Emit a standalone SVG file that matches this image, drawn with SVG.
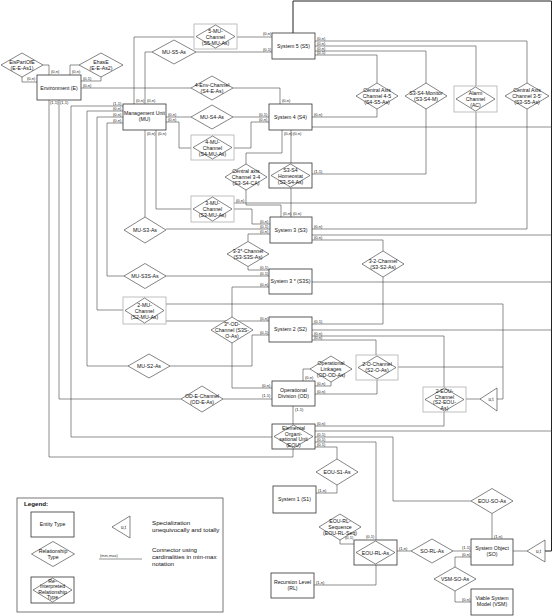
<svg xmlns="http://www.w3.org/2000/svg" width="553" height="616" viewBox="0 0 553 616">
<style>
.e{fill:#fff;stroke:#333;stroke-width:0.8}
.r{fill:#fff;stroke:#333;stroke-width:0.6}
.ib{fill:#fff;stroke:#b0b0b0;stroke-width:0.8}
.ibd{fill:#fff;stroke:#333;stroke-width:0.8}
.c{fill:none;stroke:#444;stroke-width:0.6}
.bus{fill:none;stroke:#222;stroke-width:1}
text{font-family:"Liberation Sans",Arial,sans-serif;fill:#111}
.t{font-size:5.2px;text-anchor:middle}
.k{font-size:4px;fill:#333}
.lg{font-size:6.2px}
</style>
<rect width="553" height="616" fill="#fff"/>
<g id="connectors">
<polyline class="c" points="43,65 49,65 49,75"/>
<polyline class="c" points="22,77 22,82 37,82"/>
<polyline class="c" points="79,65 70,65 70,75"/>
<polyline class="c" points="101,77 101,81 81,81"/>
<polyline class="c" points="81,88 191,88"/>
<polyline class="c" points="233,88 280,88 280,104"/>
<polyline class="c" points="49,100 49,457 293,457 293,449"/>
<polyline class="c" points="59,100 59,399 181,399"/>
<polyline class="c" points="223,399 272,399"/>
<polyline class="c" points="123,106 71,106 71,437 272,437"/>
<polyline class="c" points="123,111 87,111 87,366 128,366"/>
<polyline class="c" points="123,117 97,117 97,310 123,310"/>
<polyline class="c" points="123,123 107,123 107,276 124,276"/>
<polyline class="c" points="134,104 134,37 194,37"/>
<polyline class="c" points="145,104 145,52 152,52"/>
<polyline class="c" points="145,130 145,217"/>
<polyline class="c" points="156,130 156,209 191,209"/>
<polyline class="c" points="166,117 191,117"/>
<polyline class="c" points="166,122 179,122 179,148 191,148"/>
<polyline class="c" points="237,37 272,37"/>
<polyline class="c" points="196,52 272,52"/>
<polyline class="bus" points="293,33 293,1 551.5,1 551.5,551 545,551"/>
<polyline class="c" points="315,41 527,41 527,83"/>
<polyline class="c" points="315,46 476,46 476,86"/>
<polyline class="c" points="315,51 426,51 426,83"/>
<polyline class="c" points="315,55 377,55 377,83"/>
<polyline class="c" points="377,109 377,117 312,117"/>
<polyline class="c" points="312,127 551.5,127"/>
<polyline class="c" points="233,117 269,117"/>
<polyline class="c" points="234,148 251,148 251,122 269,122"/>
<polyline class="c" points="282,130 282,153 246,153 246,164"/>
<polyline class="c" points="291,130 291,163"/>
<polyline class="c" points="246,190 246,205 281,205 281,217"/>
<polyline class="c" points="291,188 291,217"/>
<polyline class="c" points="312,174 426,174 426,109"/>
<polyline class="c" points="476,112 476,203 234,203"/>
<polyline class="c" points="234,209 252,209 252,224 270,224"/>
<polyline class="c" points="166,229 270,229"/>
<polyline class="c" points="270,234 248,234 248,241.5"/>
<polyline class="c" points="248,266.5 248,270 269,270"/>
<polyline class="c" points="166,276 269,276"/>
<polyline class="c" points="269,287 232,287 232,317"/>
<polyline class="c" points="232,343 232,388 272,388"/>
<polyline class="c" points="312,282 551.5,282"/>
<polyline class="c" points="527,109 527,229 312,229"/>
<polyline class="c" points="312,235 551.5,235"/>
<polyline class="c" points="312,240 383,240 383,251"/>
<polyline class="c" points="383,277 383,324 312,324"/>
<polyline class="c" points="312,330 551.5,330"/>
<polyline class="c" points="312,336 444,336 444,387"/>
<polyline class="c" points="312,340 376,340 376,355"/>
<polyline class="c" points="166,304 503,304 503,399 497,399"/>
<polyline class="c" points="166,321 269,321"/>
<polyline class="c" points="170,366 252,366 252,335 269,335"/>
<polyline class="c" points="377,380 377,394 315,394"/>
<polyline class="c" points="398,367 503,367"/>
<polyline class="c" points="480,399 466,399"/>
<polyline class="c" points="303,381 303,369 310,369"/>
<polyline class="c" points="331,382 331,386 315,386"/>
<polyline class="c" points="293,406 293,424"/>
<polyline class="c" points="444,412 444,426 315,426"/>
<polyline class="c" points="315,431 551.5,431"/>
<polyline class="c" points="315,437 393,437 393,501 471,501"/>
<polyline class="c" points="315,442 376,442 376,540"/>
<polyline class="c" points="315,447 337,447 337,459"/>
<polyline class="c" points="337,485 337,493 316,493"/>
<polyline class="c" points="492,513.5 492,539"/>
<polyline class="c" points="340,540 340,544 354,544"/>
<polyline class="c" points="397,551 411,551"/>
<polyline class="c" points="453,551 471,551"/>
<polyline class="c" points="471,557 455,557 455,567"/>
<polyline class="c" points="455,591 455,602 471,602"/>
<polyline class="c" points="376,565 376,585 314,585"/>
<polyline class="c" points="513,551 527,551"/>
<g class="k">
<text x="51" y="73">(0,n)</text>
<text x="27" y="80">(0,n)</text>
<text x="72" y="73">(0,n)</text>
<text x="83" y="79.5">(0,1)</text>
<text x="83" y="86.5">(0,n)</text>
<text x="282" y="102">(0,n)</text>
<text x="50" y="104">(1,1)</text>
<text x="60" y="104">(1,1)</text>
<text x="262" y="397">(1,1)</text>
<text x="113" y="104.5">(1,1)</text>
<text x="113" y="109.5">(0,n)</text>
<text x="113" y="115.5">(0,n)</text>
<text x="113" y="121.5">(0,n)</text>
<text x="136" y="102">(0,n)</text>
<text x="147" y="102">(0,n)</text>
<text x="147" y="134.5">(0,n)</text>
<text x="158" y="134.5">(0,n)</text>
<text x="168" y="115.5">(0,n)</text>
<text x="168" y="120.5">(0,n)</text>
<text x="263" y="35">(0,n)</text>
<text x="263" y="50.5">(0,1)</text>
<text x="317" y="39.5">(0,n)</text>
<text x="317" y="44.5">(0,n)</text>
<text x="317" y="49.5">(0,n)</text>
<text x="317" y="54">(0,1)</text>
<text x="314" y="115.5">(0,n)</text>
<text x="259" y="115.5">(0,1)</text>
<text x="259" y="120.5">(0,n)</text>
<text x="284" y="134.5">(0,n)</text>
<text x="293" y="134.5">(0,n)</text>
<text x="283" y="215">(0,n)</text>
<text x="293" y="215">(0,n)</text>
<text x="314" y="172.5">(1,1)</text>
<text x="236" y="201.5">(0,n)</text>
<text x="260" y="222.5">(0,n)</text>
<text x="260" y="227.5">(0,1)</text>
<text x="260" y="233">(0,n)</text>
<text x="260" y="268.5">(0,1)</text>
<text x="260" y="274.5">(0,1)</text>
<text x="260" y="285.5">(0,n)</text>
<text x="262" y="386.5">(0,n)</text>
<text x="314" y="227.5">(0,n)</text>
<text x="314" y="238.5">(0,n)</text>
<text x="314" y="322.5">(0,1)</text>
<text x="314" y="334.5">(0,n)</text>
<text x="314" y="339">(0,n)</text>
<text x="260" y="319.5">(0,n)</text>
<text x="260" y="333.5">(0,1)</text>
<text x="317" y="392.5">(0,n)</text>
<text x="305" y="378.5">(0,n)</text>
<text x="317" y="384.5">(0,n)</text>
<text x="295" y="411">(1,1)</text>
<text x="317" y="424.5">(0,n)</text>
<text x="317" y="435.5">(0,1)</text>
<text x="317" y="440.5">(0,1)</text>
<text x="317" y="446">(0,1)</text>
<text x="318" y="491.5">(1,n)</text>
<text x="494" y="537.5">(1,n)</text>
<text x="345" y="539">(0,1)</text>
<text x="366" y="538">(0,1)</text>
<text x="399" y="549.5">(1,n)</text>
<text x="462" y="549">(1,1)</text>
<text x="462" y="555.5">(0,n)</text>
<text x="462" y="600.5">(0,n)</text>
<text x="316" y="583.5">(1,n)</text>
</g>
</g>
<g id="E"><rect class="e" x="37" y="75" width="44" height="25"/><text class="t" x="59" y="89.5">Environment (E)</text></g>
<g id="MU"><rect class="e" x="123" y="104" width="43" height="26"/><text class="t" x="144.5" y="115">Management Unit</text><text class="t" x="144.5" y="121">(MU)</text></g>
<g id="S5"><rect class="e" x="272" y="33" width="43" height="26"/><text class="t" x="293.5" y="47.5">System 5 (S5)</text></g>
<g id="S4"><rect class="e" x="269" y="104" width="43" height="26"/><text class="t" x="290.5" y="118.5">System 4 (S4)</text></g>
<g id="S3"><rect class="e" x="270" y="217" width="42" height="26"/><text class="t" x="291" y="231.5">System 3 (S3)</text></g>
<g id="S3S"><rect class="e" x="269" y="269" width="43" height="25"/><text class="t" x="290.5" y="283">System 3 * (S3S)</text></g>
<g id="S2"><rect class="e" x="269" y="317" width="43" height="25"/><text class="t" x="290.5" y="331">System 2 (S2)</text></g>
<g id="OD"><rect class="e" x="272" y="381" width="43" height="25"/><text class="t" x="293.5" y="392">Operational</text><text class="t" x="293.5" y="398">Division (OD)</text></g>
<g id="S1"><rect class="e" x="273" y="486" width="43" height="27"/><text class="t" x="294.5" y="501">System 1 (S1)</text></g>
<g id="RL"><rect class="e" x="271" y="573" width="43" height="25"/><text class="t" x="292.5" y="584">Recursion Level</text><text class="t" x="292.5" y="590">(RL)</text></g>
<g id="SO"><rect class="e" x="471" y="539" width="42" height="26"/><text class="t" x="492" y="550">System Object</text><text class="t" x="492" y="556">(SO)</text></g>
<g id="VSM"><rect class="e" x="471" y="589" width="42" height="26"/><text class="t" x="492" y="600">Viable System</text><text class="t" x="492" y="606">Model (VSM)</text></g>
<g id="EisPartOfE"><polygon class="r" points="1,65 22,53 43,65 22,77"/><text class="t" x="22" y="63.5">EisPartOfE</text><text class="t" x="22" y="69.5">(E-E-As1)</text></g>
<g id="EhasE"><polygon class="r" points="79,65 101,53 123,65 101,77"/><text class="t" x="101" y="63.5">EhasE</text><text class="t" x="101" y="69.5">(E-E-As2)</text></g>
<g id="MU-S5-As"><polygon class="r" points="152,52 174,40 196,52 174,64"/><text class="t" x="174" y="54">MU-S5-As</text></g>
<g id="S4-E-As"><polygon class="r" points="191,88 212,76 233,88 212,100"/><text class="t" x="212" y="86.5">4-Env-Channel</text><text class="t" x="212" y="92.5">(S4-E-As)</text></g>
<g id="MU-S4-As"><polygon class="r" points="191,117 212,105 233,117 212,129"/><text class="t" x="212" y="119">MU-S4-As</text></g>
<g id="S3-S4-CA"><polygon class="r" points="225,177 246,164 267,177 246,190"/><text class="t" x="246" y="173">Central axis</text><text class="t" x="246" y="179">Channel 3-4</text><text class="t" x="246" y="185">(S3-S4-CA)</text></g>
<g id="S4-S5-As"><polygon class="r" points="356,96 377,83 398,96 377,109"/><text class="t" x="377" y="92">Central Axis</text><text class="t" x="377" y="98">Channel 4-5</text><text class="t" x="377" y="104">(S4-S5-As)</text></g>
<g id="S3-S4-M"><polygon class="r" points="405,96 426,83 447,96 426,109"/><text class="t" x="426" y="94.5">S3-S4-Monitor</text><text class="t" x="426" y="100.5">(S3-S4-M)</text></g>
<g id="S3-S5-As"><polygon class="r" points="505,96 527,83 549,96 527,109"/><text class="t" x="527" y="92">Central Axis</text><text class="t" x="527" y="98">Channel 3-5'</text><text class="t" x="527" y="104">(S3-S5-As)</text></g>
<g id="MU-S3-As"><polygon class="r" points="124,230 145,217 166,230 145,243"/><text class="t" x="145" y="232">MU-S3-As</text></g>
<g id="S3-S3S-As"><polygon class="r" points="227,254 248,241.5 269,254 248,266.5"/><text class="t" x="248" y="252.5">3-3*-Channel</text><text class="t" x="248" y="258.5">(S3-S3S-As)</text></g>
<g id="S3-S2-As"><polygon class="r" points="362,264 383,251 404,264 383,277"/><text class="t" x="383" y="262.5">3-2-Channel</text><text class="t" x="383" y="268.5">(S3-S2-As)</text></g>
<g id="MU-S3S-As"><polygon class="r" points="124,276 145,263.5 166,276 145,288.5"/><text class="t" x="145" y="278">MU-S3S-As</text></g>
<g id="MU-S2-As"><polygon class="r" points="128,366 149,354 170,366 149,378"/><text class="t" x="149" y="368">MU-S2-As</text></g>
<g id="S3S-O-As"><polygon class="r" points="211,330 232,317 253,330 232,343"/><text class="t" x="232" y="326">3*-OD-</text><text class="t" x="232" y="332">Channel (S3S-</text><text class="t" x="232" y="338">O-As)</text></g>
<g id="OD-E-As"><polygon class="r" points="181,399 202,386 223,399 202,412"/><text class="t" x="202" y="397.5">OD-E-Channel</text><text class="t" x="202" y="403.5">(OD-E-As)</text></g>
<g id="OD-OD-As"><polygon class="r" points="310,369 331,356 352,369 331,382"/><text class="t" x="331" y="365">Operational</text><text class="t" x="331" y="371">Linkages</text><text class="t" x="331" y="377">(OD-OD-As)</text></g>
<g id="EOU-S1-As"><polygon class="r" points="316,472 337,459 358,472 337,485"/><text class="t" x="337" y="474">EOU-S1-As</text></g>
<g id="EOU-RL-Seq"><polygon class="r" points="319,527 340,514 361,527 340,540"/><text class="t" x="340" y="523">EOU-RL-</text><text class="t" x="340" y="529">Sequence</text><text class="t" x="340" y="535">(EOU-RL-Seq)</text></g>
<g id="EOU-SO-As"><polygon class="r" points="471,501 492,488.5 513,501 492,513.5"/><text class="t" x="492" y="503">EOU-SO-As</text></g>
<g id="SO-RL-As"><polygon class="r" points="411,551 432,539 453,551 432,563"/><text class="t" x="432" y="553">SO-RL-As</text></g>
<g id="VSM-SO-As"><polygon class="r" points="434,579 455,567 476,579 455,591"/><text class="t" x="455" y="581">VSM-SO-As</text></g>
<g id="S5-MU-As"><rect class="ib" x="194" y="24" width="43" height="25"/><polygon class="r" points="196,36.5 215.5,25 235,36.5 215.5,48"/><text class="t" x="215.5" y="32.5">5-MU-</text><text class="t" x="215.5" y="38.5">Channel</text><text class="t" x="215.5" y="44.5">(S5-MU-As)</text></g>
<g id="S4-MU-As"><rect class="ib" x="191" y="135" width="43" height="25"/><polygon class="r" points="193,147.5 212.5,136 232,147.5 212.5,159"/><text class="t" x="212.5" y="143.5">4-MU-</text><text class="t" x="212.5" y="149.5">Channel</text><text class="t" x="212.5" y="155.5">(S4-MU-As)</text></g>
<g id="S3-MU-As"><rect class="ib" x="191" y="196" width="43" height="26"/><polygon class="r" points="193,209 212.5,197 232,209 212.5,221"/><text class="t" x="212.5" y="205">3-MU-</text><text class="t" x="212.5" y="211">Channel</text><text class="t" x="212.5" y="217">(S3-MU-As)</text></g>
<g id="S2-MU-As"><rect class="ib" x="123" y="297" width="43" height="27"/><polygon class="r" points="125,310.5 144.5,298 164,310.5 144.5,323"/><text class="t" x="144.5" y="306.5">2-MU-</text><text class="t" x="144.5" y="312.5">Channel</text><text class="t" x="144.5" y="318.5">(S2-MU-As)</text></g>
<g id="AC"><rect class="ib" x="454" y="86" width="43" height="26"/><polygon class="r" points="456,99 475.5,87 495,99 475.5,111"/><text class="t" x="475.5" y="95">Alarm</text><text class="t" x="475.5" y="101">Channel</text><text class="t" x="475.5" y="107">(AC)</text></g>
<g id="S3-S4-As"><rect class="ibd" x="269" y="163" width="43" height="25"/><polygon class="r" points="271,175.5 290.5,164 310,175.5 290.5,187"/><text class="t" x="290.5" y="171.5">S3-S4</text><text class="t" x="290.5" y="177.5">Homeostat</text><text class="t" x="290.5" y="183.5">(S3-S4-As)</text></g>
<g id="S2-O-As"><rect class="ib" x="356" y="355" width="42" height="25"/><polygon class="r" points="358,367.5 377,356 396,367.5 377,379"/><text class="t" x="377" y="366">2-O-Channel</text><text class="t" x="377" y="372">(S2-O-As)</text></g>
<g id="S2-EOU-As"><rect class="ib" x="423" y="387" width="43" height="25"/><polygon class="r" points="425,399.5 444.5,388 464,399.5 444.5,411"/><text class="t" x="444.5" y="393">2-EOU-</text><text class="t" x="444.5" y="398.5">Channel</text><text class="t" x="444.5" y="404">(S2-EOU-</text><text class="t" x="444.5" y="409.5">As)</text></g>
<g id="EOU"><rect class="ibd" x="272" y="424" width="43" height="25"/><polygon class="r" points="274,436.5 293.5,425 313,436.5 293.5,448"/><text class="t" x="293.5" y="430">Elemental</text><text class="t" x="293.5" y="435.5">Organi-</text><text class="t" x="293.5" y="441">sational Unit</text><text class="t" x="293.5" y="446.5">(EOU)</text></g>
<g id="EOU-RL-As"><rect class="ibd" x="354" y="540" width="43" height="25"/><polygon class="r" points="356,552.5 375.5,541 395,552.5 375.5,564"/><text class="t" x="375.5" y="554.5">EOU-RL-As</text></g>
<g id="spec-S2-EOU"><polygon class="r" points="480,399 497,388 497,411"/><text class="t" x="491" y="401" style="font-size:4.5px">u,t</text></g>
<g id="spec-SO"><polygon class="r" points="527,551 545,540 545,562"/><text class="t" x="538.5" y="553" style="font-size:4.5px">u,t</text></g>
<g id="legend">
<rect x="17" y="498" width="206" height="114" fill="#fff" stroke="#555" stroke-width="0.8"/>
<text x="24" y="506" style="font-size:6.2px;font-weight:bold">Legend:</text>
<rect class="e" x="31" y="512" width="43" height="25"/><text class="t" x="52.5" y="526">Entity Type</text>
<polygon class="r" points="31.5,554 53,541.5 74.5,554 53,566.5"/><text class="t" x="53" y="552.5">Relationship</text><text class="t" x="53" y="558.5">Type</text>
<rect class="ibd" x="31" y="577" width="43" height="26"/><polygon class="r" points="33,590 52.5,578 72,590 52.5,602"/><text class="t" x="52.5" y="582.5">Re-</text><text class="t" x="52.5" y="588">Interpreted</text><text class="t" x="52.5" y="593.5">Relationship</text><text class="t" x="52.5" y="599">Type</text>
<polygon class="r" points="112,527 130,516 130,538"/><text class="t" x="123.5" y="529" style="font-size:4.5px">u,t</text>
<text class="lg" x="152" y="525">Specialization</text>
<text class="lg" x="152" y="532">unequivocally and totally</text>
<line x1="99" y1="559" x2="142" y2="559" stroke="#888" stroke-width="0.9"/>
<text class="k" x="100" y="556.5">(min,max)</text>
<text class="lg" x="152" y="552">Connector using</text>
<text class="lg" x="152" y="559">cardinalities in min-max</text>
<text class="lg" x="152" y="566">notation</text>
</g>
</svg>
